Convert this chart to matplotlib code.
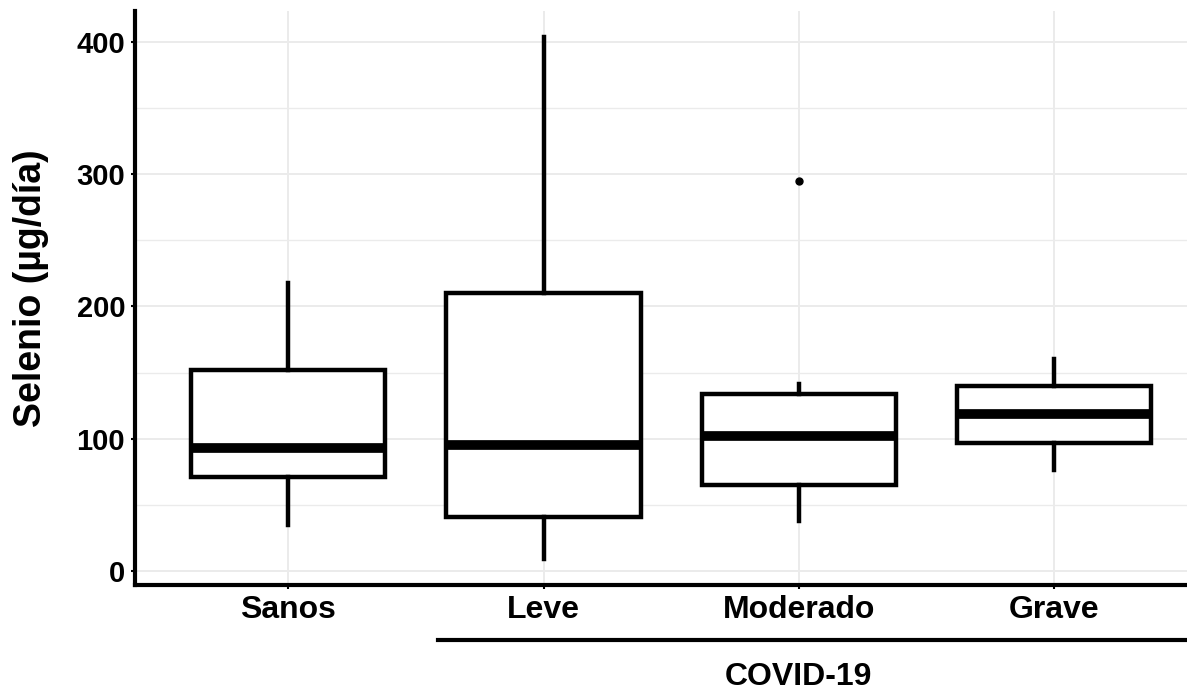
import matplotlib
matplotlib.use('Agg')
import matplotlib.pyplot as plt
from matplotlib.ticker import MultipleLocator

# groups and box statistics (ug/dia)
groups = ['Sanos', 'Leve', 'Moderado', 'Grave']
whislo = [35, 9, 38, 76]
q1 = [71, 41, 65, 97]
med = [93, 95, 102, 119]
q3 = [152, 210, 134, 140]
whishi = [218, 404, 141, 160]
fliers = [[], [], [295], []]

plt.rcParams['font.family'] = ['Liberation Sans', 'DejaVu Sans']
plt.rcParams['font.weight'] = 'bold'

fig = plt.figure(figsize=(11.87, 6.91), dpi=100)
ax = fig.add_axes([0.1137, 0.1534, 0.8863, 0.8306])

stats = []
for i in range(len(groups)):
    stats.append({'whislo': whislo[i], 'q1': q1[i], 'med': med[i], 'q3': q3[i],
                  'whishi': whishi[i], 'fliers': fliers[i], 'label': groups[i]})

pos = list(range(len(groups)))
ax.bxp(stats, positions=pos, widths=0.76, showcaps=False, patch_artist=True,
       boxprops=dict(facecolor='white', edgecolor='black', linewidth=3.2),
       whiskerprops=dict(color='black', linewidth=3.2),
       medianprops=dict(color='black', linewidth=7, solid_capstyle='butt'),
       flierprops=dict(marker='o', markerfacecolor='black', markeredgecolor='black', markersize=5),
       zorder=3)

ax.set_xlim(-0.6, 3.52)
ax.set_ylim(-10.7, 423.5)
ax.yaxis.set_major_locator(MultipleLocator(100))
ax.yaxis.set_minor_locator(MultipleLocator(50))
ax.set_xticks(pos)
ax.set_xticklabels(groups, fontsize=23, fontweight='bold')
for lab in ax.get_yticklabels():
    lab.set_fontsize(21)
    lab.set_fontweight('bold')

# grid like ggplot minimal
ax.grid(True, which='major', color='#ebebeb', linewidth=1.4, zorder=0)
ax.grid(True, which='minor', axis='y', color='#ebebeb', linewidth=1.0, zorder=0)
ax.set_axisbelow(True)

for s in ['top', 'right']:
    ax.spines[s].set_visible(False)
for s in ['left', 'bottom']:
    ax.spines[s].set_linewidth(3)
ax.tick_params(which='major', length=3, width=1.5, pad=4)
ax.tick_params(axis='x', labelsize=23)
ax.tick_params(axis='y', labelsize=21)
ax.tick_params(which='minor', length=0)

fig.text(31 / 1187, 1 - 288 / 691, 'Selenio (µg/día)', rotation=90,
         ha='center', va='center', fontsize=27, fontweight='bold')

# COVID-19 bracket under the three patient groups
fig.add_artist(plt.Line2D([438 / 1187, 1.0], [1 - 640 / 691, 1 - 640 / 691],
                          color='black', linewidth=3))
fig.text(798 / 1187, 1 - 677 / 691, 'COVID-19', ha='center', va='center',
         fontsize=23, fontweight='bold')

fig.savefig('out.png', dpi=100)
